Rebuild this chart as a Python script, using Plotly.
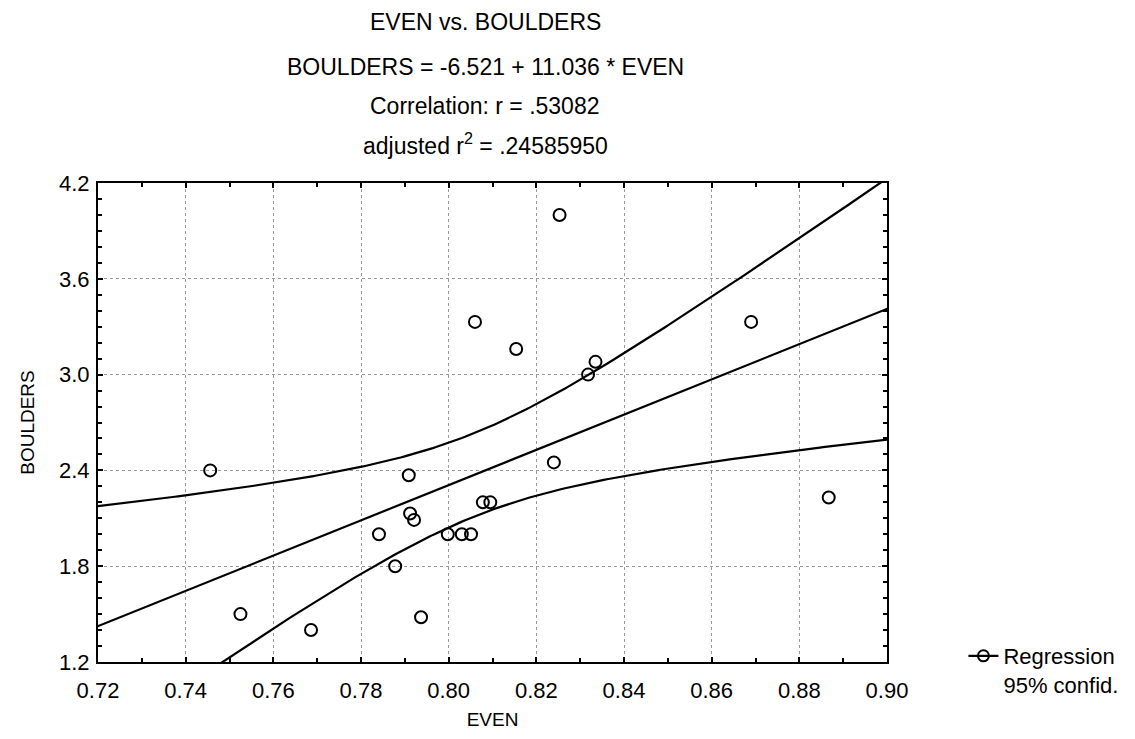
import numpy as np
import plotly.graph_objects as go

# ---- data ----
even = [0.7456, 0.7525, 0.7686, 0.7841, 0.7878, 0.7909, 0.7912, 0.7921, 0.7937,
        0.7998, 0.8030, 0.8051, 0.8078, 0.8095, 0.8060, 0.8154, 0.8240, 0.8253,
        0.8318, 0.8335, 0.8690, 0.8867]
boulders = [2.40, 1.50, 1.40, 2.00, 1.80, 2.37, 2.13, 2.09, 1.48,
            2.00, 2.00, 2.00, 2.20, 2.20, 3.33, 3.16, 2.45, 4.00,
            3.00, 3.08, 3.33, 2.23]
INTERCEPT = -6.521
SLOPE = 11.036
T_CRIT = 2.086  # t(0.975, df=20)

x_ticks = [0.72, 0.74, 0.76, 0.78, 0.80, 0.82, 0.84, 0.86, 0.88, 0.90]
y_ticks = [1.2, 1.8, 2.4, 3.0, 3.6, 4.2]

title_lines = ["EVEN vs. BOULDERS",
               "BOULDERS = -6.521 + 11.036 * EVEN",
               "Correlation: r = .53082",
               "adjusted r<sup>2</sup> = .24585950"]

# ---- regression and 95% confidence band ----
xa = np.array(even)
ya = np.array(boulders)
n = len(xa)
resid = ya - (INTERCEPT + SLOPE * xa)
s = np.sqrt(np.sum(resid ** 2) / (n - 2))
xbar = xa.mean()
sxx = np.sum((xa - xbar) ** 2)
xs = np.linspace(0.70, 0.92, 300)
yhat = INTERCEPT + SLOPE * xs
half = T_CRIT * s * np.sqrt(1.0 / n + (xs - xbar) ** 2 / sxx)

FONT = "Liberation Sans, Arial, sans-serif"
line_style = dict(color="black", width=2.2)

fig = go.Figure()
fig.add_trace(go.Scatter(x=xs, y=yhat, mode="lines", line=line_style,
                         showlegend=False, hoverinfo="skip"))
fig.add_trace(go.Scatter(x=xs, y=yhat + half, mode="lines", line=line_style,
                         showlegend=False, hoverinfo="skip"))
fig.add_trace(go.Scatter(x=xs, y=yhat - half, mode="lines", line=line_style,
                         showlegend=False, hoverinfo="skip"))
fig.add_trace(go.Scatter(x=even, y=boulders, mode="markers",
                         marker=dict(symbol="circle-open", size=12,
                                     color="black", line=dict(width=2)),
                         showlegend=False))
# legend entry
fig.add_trace(go.Scatter(x=[None], y=[None], mode="lines+markers",
                         name="Regression<br>95% confid.",
                         line=line_style,
                         marker=dict(symbol="circle-open", size=11,
                                     color="black", line=dict(width=2))))

OFF = 8  # page body margin
W, H = 1135 - OFF, 739 - OFF
PL, PR, PT, PB = 98 - OFF, 893 - OFF, 183 - OFF, 662 - OFF
ph = PB - PT
pw = PR - PL

title_y = [22, 67, 106, 144]
for txt, yp in zip(title_lines, title_y):
    fig.add_annotation(text=txt, xref="paper", yref="paper",
                       x=(488 - OFF - PL) / pw, y=1 + (PT - (yp - OFF)) / ph,
                       xanchor="center", yanchor="middle", showarrow=False,
                       font=dict(family=FONT, size=23, color="black"))

axis_common = dict(showline=True, linecolor="black", linewidth=2, mirror="ticks",
                   ticks="inside", ticklen=5, tickwidth=2, tickcolor="black",
                   showgrid=True, gridcolor="#9a9a9a", griddash="dot", gridwidth=1,
                   zeroline=False,
                   tickfont=dict(family=FONT, size=22, color="black"))

fig.update_xaxes(range=[0.72, 0.90], tickvals=x_ticks, tickformat=".2f",
                 minor=dict(dtick=0.01, ticks="inside", ticklen=4, tickwidth=2,
                            tickcolor="black", showgrid=False),
                 title=dict(text="EVEN", font=dict(family=FONT, size=19, color="black"),
                            standoff=10),
                 ticklabelstandoff=8,
                 **axis_common)
fig.update_yaxes(range=[1.2, 4.2], tickvals=y_ticks, tickformat=".1f",
                 minor=dict(dtick=0.1, ticks="inside", ticklen=4, tickwidth=2,
                            tickcolor="black", showgrid=False),
                 title=dict(text="BOULDERS", font=dict(family=FONT, size=19, color="black"),
                            standoff=19),
                 ticklabelstandoff=2,
                 **axis_common)

fig.update_layout(
    width=W, height=H,
    margin=dict(l=PL, r=W - PR, t=PT, b=H - PB),
    paper_bgcolor="white", plot_bgcolor="white",
    font=dict(family=FONT, color="black"),
    showlegend=True,
    legend=dict(x=(970 - OFF - PL) / pw, y=(PB - (635 - OFF)) / ph,
                xanchor="left", yanchor="top",
                bgcolor="rgba(0,0,0,0)", font=dict(family=FONT, size=22, color="black"),
                valign="top"),
)

fig.write_html("out.html")
